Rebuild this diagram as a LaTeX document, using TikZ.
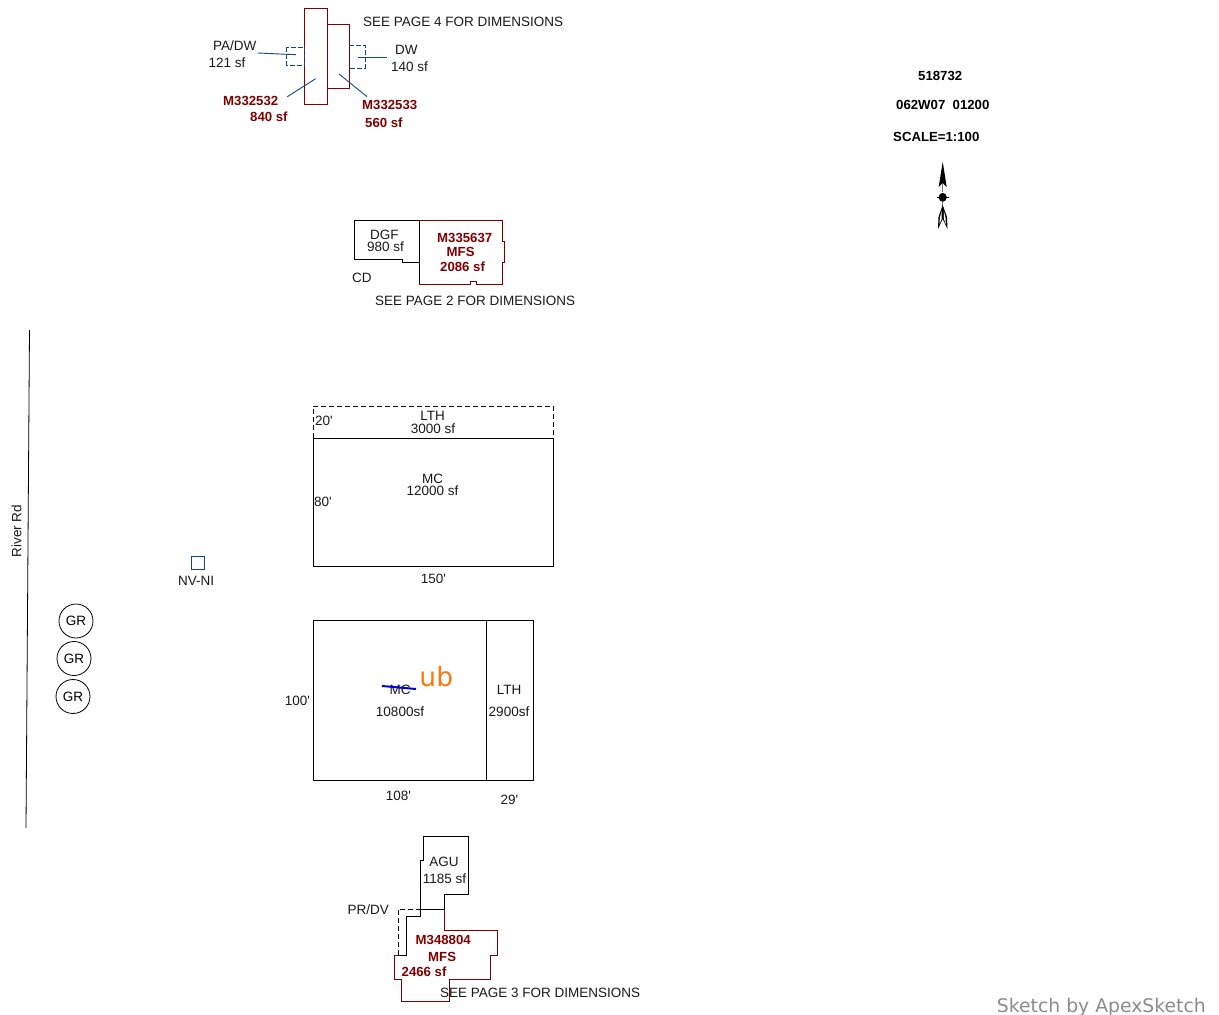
\documentclass[tikz,border=0pt]{standalone}
\usepackage{fontspec}
\setmainfont{Liberation Sans}
\newfontfamily\wmfont{DejaVu Sans}
\newfontfamily\plainfont{Liberation Sans}
\definecolor{darkred}{RGB}{128,0,0}
\definecolor{leader}{RGB}{20,70,130}
\newcommand{\ft}{{\plainfont\char39}}
\tikzset{
  lbl/.style={inner sep=0pt,anchor=west,yshift=-0.5pt,text=black!90,font=\fontsize{13.5}{13.5}\selectfont},
  redlbl/.style={inner sep=0pt,anchor=west,text=darkred,font=\fontsize{13.2}{13.2}\selectfont\bfseries},
  blk/.style={inner sep=0pt,anchor=west,yshift=-0.5pt,text=black,font=\fontsize{13.2}{13.2}\selectfont\bfseries},
  wall/.style={draw=black,line width=0.9pt},
  redwall/.style={draw=darkred,line width=0.9pt},
  dashwall/.style={draw=black,line width=0.9pt,dash pattern=on 5pt off 3pt},
  bluedash/.style={draw=leader,line width=0.9pt,dash pattern=on 5pt off 2pt},
  lead/.style={draw=leader,line width=0.9pt},
  gr/.style={circle,draw=black,line width=0.8pt,minimum size=34pt,inner sep=0pt,font=\fontsize{13.5}{13.5}\selectfont}
}
\begin{document}
\begin{tikzpicture}[x=1pt,y=-1pt]
\useasboundingbox (0,0) rectangle (1219,1015);
% top group
\draw[redwall] (304.7,8.3) rectangle (327,104.3);
\draw[redwall] (327,24.3) rectangle (349.3,88.3);
\draw[bluedash] (286.7,47.3) rectangle (304.7,65.3);
\draw[bluedash] (349.3,45) -- (365.3,45) -- (365.3,68) -- (349.3,68);
\coordinate (a1) at (257.7,53); \coordinate (a2) at (296,54.7);
\coordinate (b1) at (358.3,57.7); \coordinate (b2) at (387.3,57.7);
\coordinate (c1) at (287.3,96.7); \coordinate (c2) at (315.7,78.7);
\coordinate (d1) at (339,74); \coordinate (d2) at (367,96.7);
\draw[lead] (a1) -- (a2);
\draw[lead] (b1) -- (b2);
\draw[lead] (c1) -- (c2);
\draw[lead] (d1) -- (d2);
\node[lbl] (t1) at (213,45.5) {PA/DW};
\node[lbl] (t2) at (208.5,62) {121 sf};
\node[lbl] (t3) at (395,49) {DW};
\node[lbl] (t4) at (391,66) {140 sf};
\node[redlbl] (t5) at (223,100.5) {M332532};
\node[redlbl] (t6) at (250,116.5) {840 sf};
\node[redlbl] (t7) at (362,104.5) {M332533};
\node[redlbl] (t8) at (365,122.5) {560 sf};
\node[lbl] (t9) at (363,21) {SEE PAGE 4 FOR DIMENSIONS};
% id block
\node[blk] (i1) at (918,75.5) {518732};
\node[blk] (i2) at (896,104.5) {062W07\ \ 01200};
\node[blk] (i3) at (893,136.5) {SCALE=1:100};
% north arrow
\fill[black] (942.7,161.7) -- (946.7,187) -- (942.7,183) -- (938.7,187) -- cycle;
\draw[black!55,line width=1pt] (942.7,183) -- (942.7,192);
\fill[black] (942.7,197.3) ellipse (4pt and 4.5pt);
\draw[black,line width=1pt] (936.7,197.3) -- (948.7,197.3);
\draw[black!55,line width=1pt] (942.7,202) -- (942.7,206);
\fill[black] (942.7,205) -- (947,217) -- (947.5,229) -- (942.7,219) -- (938,229) -- (938.5,217) -- cycle;
\fill[white] (941.6,211) -- (941.6,219) -- (939.6,224) -- (939.8,218) -- cycle;
\fill[white] (943.8,211) -- (943.8,219) -- (945.8,224) -- (945.6,218) -- cycle;
% DGF / MFS
\draw[wall] (419,220.7) -- (354.7,220.7) -- (354.7,259) -- (402.7,259) -- (402.7,262) -- (419,262);
\draw[wall] (419,220.7) -- (419,284.3);
\draw[redwall] (419,220.7) -- (502.3,220.7) -- (502.3,241.7) -- (504,241.7) -- (504,262.3) -- (502.3,262.3) -- (502.3,284.3) -- (476.7,284.3) -- (476.7,281.3) -- (470,281.3) -- (470,284.3) -- (419,284.3);
\node[lbl] (d1t) at (370,234.5) {DGF};
\node[lbl] (d2t) at (367,246.5) {980 sf};
\node[redlbl] (m1) at (437,237.5) {M335637};
\node[redlbl] (m2) at (446.5,251.5) {MFS};
\node[redlbl] (m3) at (440,266.5) {2086 sf};
\node[lbl] (cd) at (352,277.5) {CD};
\node[lbl] (p2) at (375,300.5) {SEE PAGE 2 FOR DIMENSIONS};
% river
\coordinate (r1) at (29.5,330); \coordinate (r2) at (26,828);
\draw[black,line width=0.8pt] (r1) -- (r2);
\node[lbl,anchor=center,rotate=90,yshift=0.5pt] (rr) at (17,530.5) {River Rd};
% NV-NI
\draw[draw=leader,line width=0.9pt] (191.5,556.5) rectangle (204.5,569.5);
\node[lbl] (nv) at (178,580.5) {NV-NI};
% GR
\node[gr] (g1) at (76,621) {GR};
\node[gr] (g2) at (74,658.5) {GR};
\node[gr] (g3) at (73,696.5) {GR};
% LTH / MC upper
\draw[dashwall] (313,438) -- (313,406) -- (553,406) -- (553,438);
\draw[wall] (313,438) rectangle (553,566);
\node[lbl,anchor=center] (u1) at (432.5,415.5) {LTH};
\node[lbl,anchor=center] (u2) at (433,428.5) {3000 sf};
\node[lbl] (u3) at (315,420.5) {20\ft};
\node[lbl,anchor=center] (u4) at (432.5,478.5) {MC};
\node[lbl,anchor=center] (u5) at (432.5,490.5) {12000 sf};
\node[lbl] (u6) at (314,501.5) {80\ft};
\node[lbl,anchor=center] (u7) at (433.5,578.5) {150\ft};
% MC lower
\draw[wall] (313.5,620.7) rectangle (486.7,780.7);
\draw[wall] (486.7,620.7) rectangle (533,780.7);
\node[lbl,anchor=center] (l1) at (400,689.5) {MC};
\coordinate (s1) at (382,686); \coordinate (s2) at (416,689);
\draw[draw={rgb,255:red,0;green,0;blue,220},line width=2pt] (s1) -- (s2);
\node[inner sep=0pt,anchor=center,text={rgb,255:red,255;green,120;blue,10},font=\wmfont\fontsize{26.5}{26.5}\selectfont] (ub) at (436.3,677) {ub};
\node[lbl,anchor=center] (l2) at (400,711.5) {10800sf};
\node[lbl,anchor=center] (l3) at (509,689.5) {LTH};
\node[lbl,anchor=center] (l4) at (509,711.5) {2900sf};
\node[lbl,anchor=center] (l5) at (297.5,700.5) {100\ft};
\node[lbl,anchor=center] (l6) at (398.5,795.5) {108\ft};
\node[lbl,anchor=center] (l7) at (509.5,799.5) {29\ft};
% AGU / MFS bottom
\draw[redwall] (444.7,909) -- (444.7,930) -- (497.3,930) -- (497.3,955.3) -- (490.3,955.3) -- (490.3,979) -- (449.7,979) -- (449.7,1001.3) -- (401.3,1001.3) -- (401.3,979) -- (394.3,979) -- (394.3,955.3) -- (397.7,955.3);
\draw[dashwall] (420.7,909) -- (398,909) -- (398,955);
\draw[wall] (420.7,909) -- (444.7,909) -- (444.7,894) -- (468.3,894) -- (468.3,836.7) -- (423.7,836.7) -- (423.7,860) -- (420.7,860) -- (420.7,916.7) -- (406,916.7) -- (406,955.3) -- (397.7,955.3);
\node[lbl,anchor=center] (a1t) at (444,861.5) {AGU};
\node[lbl,anchor=center] (a2t) at (444.5,878.5) {1185 sf};
\node[lbl] (pr) at (347.5,909.5) {PR/DV};
\node[redlbl] (b1t) at (415.5,939.5) {M348804};
\node[redlbl] (b2t) at (428,956.5) {MFS};
\node[redlbl] (b3t) at (401.5,971.5) {2466 sf};
\node[lbl] (p3) at (440,992.5) {SEE PAGE 3 FOR DIMENSIONS};
% watermark
\node[inner sep=0pt,anchor=east,text=black!45,font=\wmfont\fontsize{18.8}{18.8}\selectfont] (wm) at (1206,1007) {Sketch by ApexSketch};
\end{tikzpicture}
\end{document}
